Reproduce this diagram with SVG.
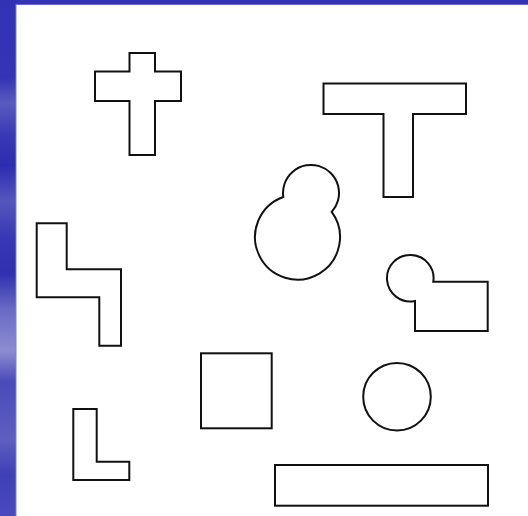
<svg xmlns="http://www.w3.org/2000/svg" width="528" height="516" viewBox="0 0 528 516">
<defs>
<linearGradient id="side" x1="0" y1="0" x2="0" y2="516" gradientUnits="userSpaceOnUse">
<stop offset="0" stop-color="#3232b4"/>
<stop offset="0.15" stop-color="#3434b4"/>
<stop offset="0.2" stop-color="#5a5ac0"/>
<stop offset="0.26" stop-color="#3a3ab6"/>
<stop offset="0.32" stop-color="#2c2cb0"/>
<stop offset="0.39" stop-color="#5656be"/>
<stop offset="0.46" stop-color="#3838b4"/>
<stop offset="0.53" stop-color="#3030b0"/>
<stop offset="0.6" stop-color="#6a6ac6"/>
<stop offset="0.68" stop-color="#8c8cd2"/>
<stop offset="0.74" stop-color="#4a4aba"/>
<stop offset="0.85" stop-color="#5e5ec2"/>
<stop offset="0.92" stop-color="#4040b6"/>
<stop offset="1" stop-color="#4a4abc"/>
</linearGradient>
</defs>
<style>
.s{fill:none;stroke:#111;stroke-width:2;stroke-linejoin:miter}
</style>
<rect x="0" y="0" width="528" height="516" fill="#ffffff"/>
<rect x="0" y="0" width="528" height="5" fill="#3434b4"/>
<rect x="16" y="4" width="512" height="1" fill="#6a6ad0"/>
<rect x="0" y="0" width="16" height="516" fill="url(#side)"/>
<rect x="15.5" y="4" width="1" height="512" fill="#8080d8"/>
<g id="cross"><path class="s" d="M129.5 53 H155 V71.5 H181 V101 H155 V155 H129.5 V101 H95 V71.5 H129.5 Z"/></g>
<g id="tee"><path class="s" d="M323.5 83.5 H466 V114 H413 V197 H383.5 V114 H323.5 Z"/></g>
<g id="blob"><path class="s" d="M283.3 197 A28 28 0 1 1 331.7 211.8 A42.5 42.5 0 1 1 283.3 197 Z"/></g>
<g id="circle-rect"><path class="s" d="M433.3 281.7 H487.7 V331 H415 V301 A23.3 23.3 0 1 1 433.3 281.7 Z"/></g>
<g id="zshape"><path class="s" d="M36.7 223.3 H66.7 V269.3 H121 V345.7 H99.3 V297.3 H36.7 Z"/></g>
<g id="square"><rect class="s" x="201" y="353.3" width="70.7" height="75"/></g>
<g id="circle"><circle class="s" cx="397" cy="396.7" r="33.8"/></g>
<g id="ell"><path class="s" d="M73.3 409 H96.7 V461.7 H129.3 V480 H73.3 Z"/></g>
<g id="bar"><rect class="s" x="275" y="465" width="213" height="40.7"/></g>
<g id="connectors"></g>
</svg>
